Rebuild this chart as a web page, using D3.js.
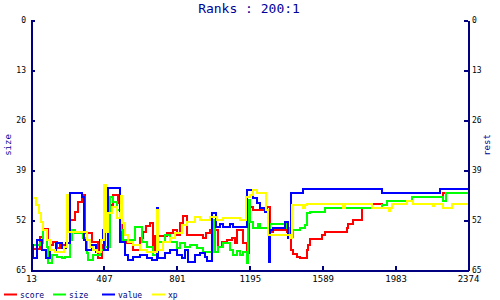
<!DOCTYPE html>
<html>
<head>
<meta charset="utf-8">
<script src="https://cdn.jsdelivr.net/npm/d3@7"></script>
<style>
  body { margin: 0; background: #fff; }
  svg { display: block; font-family: "DejaVu Sans Mono", monospace; }
</style>
</head>
<body>
<div id="chart"></div>
<script>
const xTicks = [13, 407, 801, 1195, 1589, 1983, 2374];
const yTicks = [0, 13, 26, 39, 52, 65];

// [rank, value] step points
const score = [
  [13, 58.5], [24, 59.6], [62, 56.4], [78, 54.3], [105, 57.2], [116, 58.5], [132, 57.7],
  [153, 59.3], [170, 58.5], [207, 54.6], [224, 52.0], [251, 49.9], [267, 47.3], [289, 45.5],
  [305, 55.4], [343, 57.7], [375, 61.9], [397, 58.5], [413, 54.6], [429, 48.1], [456, 45.5],
  [483, 47.6], [505, 57.7], [532, 58.0], [564, 59.8], [602, 56.7], [618, 55.1], [634, 53.6],
  [656, 52.8], [672, 59.8], [683, 56.2], [748, 55.4], [780, 54.6], [802, 55.9], [818, 52.8],
  [834, 51.0], [856, 55.9], [942, 56.7], [958, 55.4], [980, 54.6], [1023, 59.0], [1045, 57.7],
  [1072, 57.2], [1099, 56.7], [1115, 58.0], [1126, 54.6], [1158, 58.0], [1180, 60.6],
  [1190, 48.6], [1212, 49.4], [1288, 48.6], [1304, 55.1], [1320, 54.6], [1396, 55.1],
  [1418, 59.8], [1429, 60.8], [1450, 61.6], [1466, 61.9], [1504, 59.8], [1509, 58.5],
  [1520, 56.9], [1585, 55.9], [1601, 55.1], [1720, 54.1], [1726, 53.0], [1752, 52.0],
  [1801, 48.9], [1855, 47.8], [1909, 48.1], [1936, 47.1], [2072, 46.0], [2239, 45.0], [2374, 45.0]
];

const size = [
  [13, 58.5], [62, 58.0], [78, 54.6], [99, 59.0], [105, 63.2], [126, 61.1], [153, 61.6],
  [180, 61.9], [197, 61.6], [224, 57.2], [234, 54.6], [251, 55.4], [294, 56.7], [316, 60.6],
  [321, 62.4], [348, 61.1], [386, 59.8], [413, 59.0], [440, 46.0], [456, 47.3], [478, 49.4],
  [499, 54.6], [510, 57.2], [575, 53.8], [613, 57.7], [640, 59.0], [672, 61.1], [694, 57.7],
  [737, 55.9], [764, 57.7], [802, 59.3], [818, 58.0], [845, 59.0], [872, 58.5], [910, 59.3],
  [942, 60.3], [996, 52.0], [1007, 60.3], [1023, 59.0], [1050, 58.0], [1088, 59.8],
  [1104, 61.1], [1126, 60.1], [1142, 61.1], [1158, 60.3], [1180, 63.2], [1185, 46.8],
  [1196, 52.5], [1212, 54.1], [1239, 53.0], [1250, 54.1], [1299, 62.9], [1304, 53.0],
  [1396, 54.1], [1412, 56.4], [1429, 54.6], [1466, 54.1], [1493, 53.3], [1504, 50.2],
  [1520, 49.9], [1601, 48.9], [1909, 48.1], [1936, 47.1], [2072, 46.0], [2239, 47.1],
  [2255, 45.0], [2374, 45.0]
];

const value = [
  [13, 45.0], [18, 58.5], [24, 61.9], [45, 57.2], [72, 59.8], [94, 61.9], [116, 59.8],
  [148, 58.0], [180, 59.3], [202, 58.0], [224, 45.0], [289, 46.0], [299, 57.2], [310, 59.8],
  [343, 58.5], [364, 60.3], [386, 57.2], [402, 54.6], [407, 59.8], [429, 43.7], [494, 57.7],
  [521, 61.1], [537, 62.4], [564, 61.6], [602, 61.1], [640, 61.9], [667, 62.4], [694, 48.9],
  [699, 61.9], [737, 60.6], [764, 59.8], [802, 61.1], [829, 61.9], [845, 59.8], [861, 62.9],
  [899, 61.1], [926, 60.6], [953, 61.6], [964, 62.6], [991, 50.2], [1012, 53.8], [1034, 53.0],
  [1050, 53.8], [1088, 53.0], [1104, 53.8], [1180, 44.2], [1212, 46.3], [1234, 47.6],
  [1250, 48.9], [1277, 49.9], [1299, 62.9], [1304, 54.6], [1320, 54.1], [1385, 52.5],
  [1401, 56.7], [1418, 45.0], [1483, 43.9], [1909, 45.0], [2223, 43.9], [2374, 43.9]
];

const xp = [
  [13, 46.3], [40, 48.1], [56, 50.2], [67, 52.5], [78, 54.6], [99, 57.2], [116, 59.8],
  [143, 60.3], [191, 59.0], [207, 45.5], [213, 55.1], [316, 57.2], [332, 59.0], [348, 59.8],
  [370, 60.3], [391, 57.2], [407, 42.9], [418, 55.1], [429, 50.2], [451, 48.6], [478, 51.5],
  [494, 50.2], [499, 45.8], [505, 52.8], [521, 55.9], [537, 57.7], [564, 58.5], [602, 59.8],
  [640, 60.3], [694, 49.4], [699, 59.8], [726, 57.7], [764, 56.7], [791, 55.4], [829, 53.3],
  [856, 52.5], [899, 51.2], [926, 52.0], [980, 51.2], [1018, 52.0], [1050, 51.5], [1142, 52.0],
  [1174, 46.0], [1196, 45.5], [1212, 44.2], [1234, 45.0], [1282, 49.4], [1293, 55.9],
  [1412, 56.7], [1423, 48.1], [1483, 48.9], [1493, 48.1], [1504, 47.8], [1698, 48.9],
  [1709, 47.8], [1855, 48.9], [1947, 49.7], [1953, 48.9], [1964, 47.8], [2045, 47.1],
  [2077, 47.8], [2185, 48.3], [2190, 47.8], [2239, 48.9], [2288, 47.8], [2374, 47.8]
];

const seriesNames = ['score', 'size', 'value', 'xp'];
const seriesColors = ['#ff0000', '#00ff00', '#0000ff', '#ffff00'];
const seriesData = [score, size, value, xp];

const width = 500;
const height = 300;
const margin = { top: 20, right: 32, bottom: 30, left: 31 };
const axisColor = '#000080';

const svg = d3.select('#chart')
  .append('svg')
  .attr('width', width)
  .attr('height', height);

const x = d3.scaleLinear()
  .domain([13, 2374])
  .range([margin.left, width - margin.right]);

const y = d3.scaleLinear()
  .domain([0, 65])
  .range([margin.top, height - margin.bottom]);

// series
const line = d3.line()
  .x((d) => x(d[0]))
  .y((d) => y(d[1]))
  .curve(d3.curveStepAfter);

seriesData.forEach((data, i) => {
  svg.append('path')
    .datum(data)
    .attr('fill', 'none')
    .attr('stroke', seriesColors[i])
    .attr('stroke-width', 2)
    .attr('shape-rendering', 'crispEdges')
    .attr('d', line);
});

// axes
const styleAxis = (g, size, weight) => {
  g.selectAll('path, line')
    .attr('stroke', axisColor)
    .attr('stroke-width', 2)
    .attr('shape-rendering', 'crispEdges');
  g.selectAll('text')
    .attr('fill', '#000')
    .attr('font-size', size)
    .attr('font-weight', weight)
    .attr('font-family', '"DejaVu Sans Mono", monospace');
};

svg.append('g')
  .attr('transform', `translate(0, ${height - margin.bottom})`)
  .call(d3.axisBottom(x).tickValues(xTicks).tickFormat(d3.format('d'))
    .tickSizeInner(-4).tickSizeOuter(0).tickPadding(6))
  .call((g) => styleAxis(g, 9, 'normal'));

svg.append('g')
  .attr('transform', `translate(${margin.left}, 0)`)
  .call(d3.axisLeft(y).tickValues(yTicks).tickSizeInner(-4).tickSizeOuter(0).tickPadding(5))
  .call((g) => styleAxis(g, 8, 'normal'));

svg.append('g')
  .attr('transform', `translate(${width - margin.right}, 0)`)
  .call(d3.axisRight(y).tickValues(yTicks).tickSizeInner(-4).tickSizeOuter(0).tickPadding(4))
  .call((g) => styleAxis(g, 8, 'normal'));

// titles
svg.append('text')
  .attr('x', 249)
  .attr('y', 13)
  .attr('text-anchor', 'middle')
  .attr('font-size', 13)
  .attr('fill', '#000099')
  .text('Ranks : 200:1');

svg.append('text')
  .attr('transform', `translate(11, ${(margin.top + height - margin.bottom) / 2}) rotate(-90)`)
  .attr('text-anchor', 'middle')
  .attr('font-size', 9)
  .attr('fill', '#000099')
  .text('size');

svg.append('text')
  .attr('transform', `translate(490, ${(margin.top + height - margin.bottom) / 2}) rotate(-90)`)
  .attr('text-anchor', 'middle')
  .attr('font-size', 9)
  .attr('fill', '#000099')
  .text('rest');

// legend
const legendX = [4, 53, 102, 152];
const legend = svg.append('g');
seriesNames.forEach((name, i) => {
  legend.append('line')
    .attr('x1', legendX[i])
    .attr('x2', legendX[i] + 13)
    .attr('y1', 294.5)
    .attr('y2', 294.5)
    .attr('stroke', seriesColors[i])
    .attr('stroke-width', 2);
  legend.append('text')
    .attr('x', legendX[i] + 16)
    .attr('y', 298)
    .attr('font-size', 8)
    .attr('fill', '#000080')
    .text(name);
});
</script>
</body>
</html>
